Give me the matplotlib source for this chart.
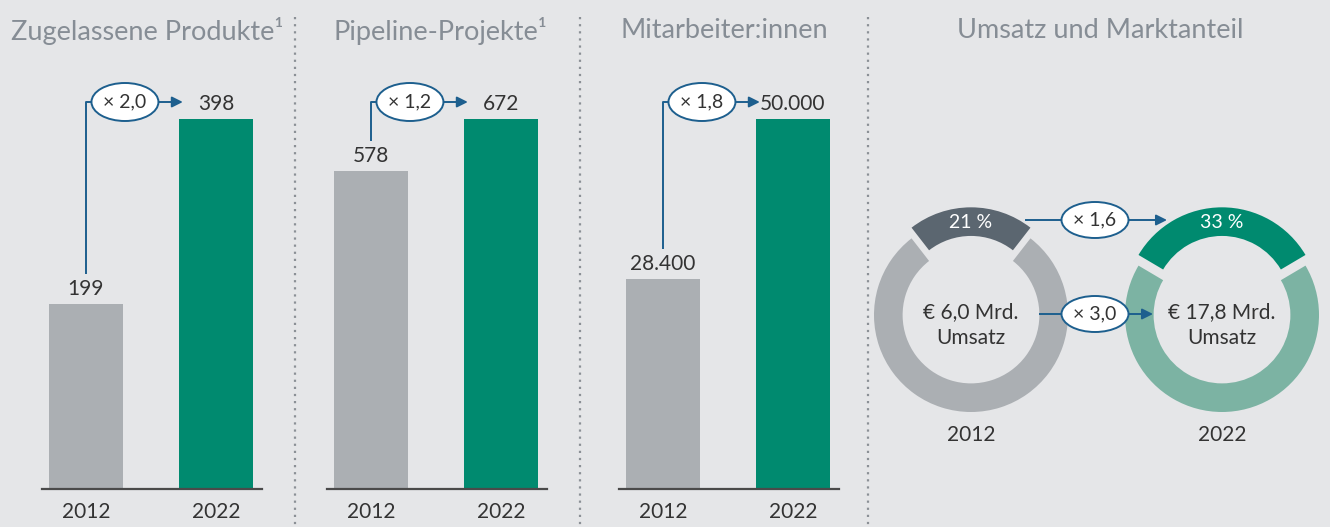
import matplotlib
matplotlib.use('Agg')
import matplotlib.pyplot as plt
from matplotlib.patches import Ellipse
import matplotlib.transforms as mtransforms

# ---------------- data ----------------
titles = ['Zugelassene Produkte¹', 'Pipeline-Projekte¹', 'Mitarbeiter:innen']
years = ['2012', '2022']
values = [[199, 398], [578, 672], [28400, 50000]]
value_labels = [['199', '398'], ['578', '672'], ['28.400', '50.000']]
factors = ['× 2,0', '× 1,2', '× 1,8']

donut_title = 'Umsatz und Marktanteil'
shares = [21, 33]
share_labels = ['21 %', '33 %']
revenue_labels = [['€ 6,0 Mrd.', 'Umsatz'], ['€ 17,8 Mrd.', 'Umsatz']]
share_factor = '× 1,6'
revenue_factor = '× 3,0'

# ---------------- style ----------------
W, H = 1330, 527
BG = '#e5e6e8'
GRAY = '#abafb3'
GREEN = '#008a6f'
DARK = '#5b6670'
LGREEN = '#7cb3a3'
BLUE = '#1d5f8e'
TXT = '#333333'
TTL = '#868d95'

plt.rcParams['font.family'] = ['Lato', 'DejaVu Sans']

fig = plt.figure(figsize=(W / 100, H / 100), dpi=100, facecolor=BG)

# ---------------- bar panels ----------------
lefts = [42, 327, 619]
AX_W, AX_H, BASE = 220, 370, 489
for i in range(3):
    ax = fig.add_axes([lefts[i] / W, (H - BASE) / H, AX_W / W, AX_H / H])
    ax.set_facecolor('none')
    vals = values[i]
    vmax = max(vals)
    ax.bar([0, 1], vals, width=0.57, color=[GRAY, GREEN])
    ax.set_xlim(-0.338, 1.354)
    ax.set_ylim(0, vmax)
    for s in ['top', 'right', 'left']:
        ax.spines[s].set_visible(False)
    ax.spines['bottom'].set_color('#4a4a4a')
    ax.spines['bottom'].set_linewidth(1.6)
    ax.set_yticks([])
    ax.set_xticks([0, 1])
    ax.set_xticklabels(years)
    ax.tick_params(axis='x', length=0, pad=9, labelsize=15, labelcolor=TXT)
    for x, v, lab in zip([0, 1], vals, value_labels[i]):
        ax.annotate(lab, (x, v), xytext=(0, 5), textcoords='offset pixels',
                    ha='center', va='bottom', fontsize=15, color=TXT,
                    annotation_clip=False)
    trans = mtransforms.blended_transform_factory(ax.transData, ax.transAxes)
    y0 = vals[0] / vmax + 30 / AX_H
    ytop = 1 + 17 / AX_H
    ox, ow, oh = 0.30, 0.515, 38 / AX_H
    ax.plot([0, 0, ox - ow / 2], [y0, ytop, ytop], transform=trans,
            color=BLUE, lw=1.4, clip_on=False, solid_capstyle='butt')
    ax.add_patch(Ellipse((ox, ytop), ow, oh, transform=trans, fc='white',
                         ec=BLUE, lw=1.4, clip_on=False, zorder=5))
    ax.text(ox, ytop, factors[i], transform=trans, ha='center', va='center',
            fontsize=14, color=TXT, zorder=6, clip_on=False)
    ax.annotate('', xy=(0.745, ytop), xytext=(ox + ow / 2, ytop),
                xycoords=trans, textcoords=trans, annotation_clip=False,
                arrowprops=dict(arrowstyle='-|>', color=BLUE, lw=1.4,
                                mutation_scale=16, shrinkA=0, shrinkB=0))

# ---------------- donuts ----------------
centers = [971, 1222]
CY = 315
R_PX = 97
SZ = 240
lim = SZ / 2 / R_PX
share_colors = [DARK, GREEN]
rest_colors = [GRAY, LGREEN]
for j in range(2):
    dax = fig.add_axes([(centers[j] - SZ / 2) / W, (H - CY - SZ / 2) / H, SZ / W, SZ / H])
    s = shares[j]
    dax.pie([s, 100 - s], startangle=90 - s * 3.6 / 2, counterclock=True,
            colors=[share_colors[j], rest_colors[j]], explode=[0.11, 0],
            radius=1, wedgeprops=dict(width=0.295, edgecolor='none'))
    dax.set_xlim(-lim, lim)
    dax.set_ylim(-lim, lim)
    dax.set_aspect('equal')
    dax.axis('off')
    dax.text(0, 0.95, share_labels[j], ha='center', va='center', fontsize=14,
             color='white')
    dax.text(0, 0.03, revenue_labels[j][0], ha='center', va='center',
             fontsize=15, color=TXT)
    dax.text(0, -0.24, revenue_labels[j][1], ha='center', va='center',
             fontsize=15, color=TXT)
    dax.text(0, -1.235, years[j], ha='center', va='center', fontsize=15,
             color=TXT, clip_on=False)

# ---------------- overlay (titles, separators, donut connectors) ----------------
ov = fig.add_axes([0, 0, 1, 1])
ov.set_xlim(0, W)
ov.set_ylim(H, 0)
ov.axis('off')
ov.set_facecolor('none')

title_x = [147, 440, 724, 1100]
for x, t in zip(title_x, titles + [donut_title]):
    ov.text(x, 31, t, ha='center', va='center', fontsize=19.5, color=TTL,
            fontweight='normal')

for x in [295, 580, 868]:
    ov.plot([x, x], [17, H], color='#8b9096', lw=1.6, linestyle=(0, (1, 2.2)))


def connector(x0, x1, y, label):
    cx, w, h = 1095, 67, 36
    ov.plot([x0, cx - w / 2], [y, y], color=BLUE, lw=1.4, zorder=4)
    ov.add_patch(Ellipse((cx, y), w, h, fc='white', ec=BLUE, lw=1.4, zorder=5))
    ov.text(cx, y, label, ha='center', va='center', fontsize=14, color=TXT, zorder=6)
    ov.annotate('', xy=(x1, y), xytext=(cx + w / 2, y),
                arrowprops=dict(arrowstyle='-|>', color=BLUE, lw=1.4,
                                mutation_scale=16, shrinkA=0, shrinkB=0))


connector(1026, 1167, 220, share_factor)
connector(1040, 1153, 314, revenue_factor)

fig.savefig('out.png', dpi=100, facecolor=BG)
